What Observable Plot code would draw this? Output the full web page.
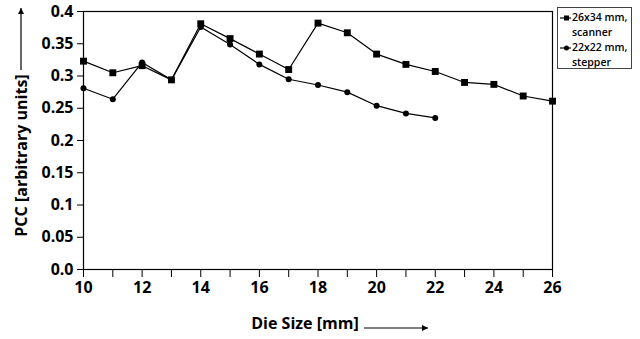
<!DOCTYPE html>
<html>
<head>
<meta charset="utf-8">
<script src="https://cdn.jsdelivr.net/npm/d3@7"></script>
<script src="https://cdn.jsdelivr.net/npm/@observablehq/plot@0.6"></script>
<style>
  html, body { margin: 0; padding: 0; background: #fff; }
  #wrap { position: relative; width: 640px; height: 339px; font-family: "Open Sans", sans-serif; }
  #legend { position: absolute; left: 557px; top: 7px; width: 75px; height: 62px; border: 1px solid #444; box-sizing: border-box; background: #fff; font-size: 10.5px; font-weight: 600; line-height: 15px; color: #000; padding-top: 2px; white-space: nowrap; overflow: hidden; }
  #legend .row { display: flex; align-items: flex-start; }
  #legend svg { flex: none; margin-left: 1px; margin-top: 0px; }
  #legend .txt { margin-left: 1px; }
</style>
</head>
<body>
<div id="wrap"></div>
<script>
const dieSize = [10, 11, 12, 13, 14, 15, 16, 17, 18, 19, 20, 21, 22, 23, 24, 25, 26];
const scanner = [0.323, 0.305, 0.316, 0.294, 0.381, 0.358, 0.334, 0.310, 0.382, 0.367, 0.334, 0.318, 0.307, 0.290, 0.287, 0.269, 0.261];
const stepperSize = [10, 11, 12, 13, 14, 15, 16, 17, 18, 19, 20, 21, 22];
const stepper = [0.281, 0.264, 0.321, 0.294, 0.376, 0.349, 0.318, 0.295, 0.286, 0.275, 0.254, 0.242, 0.235];
const yTicks = [0, 0.05, 0.1, 0.15, 0.2, 0.25, 0.3, 0.35, 0.4];
const xTicks = [10, 11, 12, 13, 14, 15, 16, 17, 18, 19, 20, 21, 22, 23, 24, 25, 26];
const seriesNames = ["26x34 mm, scanner", "22x22 mm, stepper"];
const xLabel = "Die Size [mm]";
const yLabel = "PCC [arbitrary units]";

const scanData = dieSize.map((d, i) => ({x: d, y: scanner[i]}));
const stepData = stepperSize.map((d, i) => ({x: d, y: stepper[i]}));

const W = 640, H = 339, mL = 83, mR = 88, mT = 11, mB = 70;

const chart = Plot.plot({
  width: W, height: H,
  marginLeft: mL, marginRight: mR, marginTop: mT, marginBottom: mB,
  style: {fontFamily: "Open Sans, sans-serif", fontWeight: "bold", fontSize: "16px", color: "#000", background: "#fff", overflow: "visible"},
  x: {domain: [10, 26]},
  y: {domain: [0, 0.4]},
  marks: [
    Plot.frame({stroke: "#000", strokeWidth: 1.2}),
    Plot.axisY({ticks: yTicks, tickSize: 6, tickPadding: 4, label: null, fontSize: 16, fontWeight: "bold",
      tickFormat: d => d === 0 ? "0.0" : String(+d.toFixed(2))}),
    Plot.axisX({ticks: xTicks, tickSize: 8, tickPadding: 4, label: null, fontSize: 16, fontWeight: "bold",
      tickFormat: d => d % 2 === 0 ? String(d) : ""}),
    Plot.line(scanData, {x: "x", y: "y", stroke: "#000", strokeWidth: 1.2}),
    Plot.dot(scanData, {x: "x", y: "y", symbol: "square", r: 3.9, fill: "#000"}),
    Plot.line(stepData, {x: "x", y: "y", stroke: "#000", strokeWidth: 1.2}),
    Plot.dot(stepData, {x: "x", y: "y", symbol: "circle", r: 3, fill: "#000"}),
    Plot.text([yLabel], {frameAnchor: "left", dx: -62, dy: 15, rotate: -90, fontSize: 16, fontWeight: "bold", textAnchor: "middle", text: d => d}),
    Plot.text([xLabel], {frameAnchor: "bottom", dx: -13, dy: 59, fontSize: 16, fontWeight: "bold", textAnchor: "middle", text: d => d})
  ]
});

// decorative arrows next to the axis labels
const svg = d3.select(chart);
const defs = svg.append("defs");
defs.append("marker").attr("id", "ah").attr("viewBox", "0 0 10 10").attr("refX", 10).attr("refY", 5)
  .attr("markerWidth", 10).attr("markerHeight", 6).attr("markerUnits", "userSpaceOnUse").attr("orient", "auto")
  .append("path").attr("d", "M0,0L10,5L0,10Z").attr("fill", "#000");
svg.append("line").attr("x1", 21).attr("y1", 70).attr("x2", 21).attr("y2", 8)
  .attr("stroke", "#000").attr("stroke-width", 1.2).attr("marker-end", "url(#ah)");
svg.append("line").attr("x1", 364).attr("y1", 328).attr("x2", 428).attr("y2", 328)
  .attr("stroke", "#000").attr("stroke-width", 1.2).attr("marker-end", "url(#ah)");

const wrap = document.getElementById("wrap");
wrap.appendChild(chart);

// legend
const legend = document.createElement("div");
legend.id = "legend";
const symbols = ["square", "circle"];
seriesNames.forEach((name, i) => {
  const parts = name.split(", ");
  const row = document.createElement("div");
  row.className = "row";
  const s = d3.create("svg").attr("width", 12).attr("height", 15);
  s.append("line").attr("x1", 1).attr("x2", 12).attr("y1", 8).attr("y2", 8).attr("stroke", "#000").attr("stroke-width", 1.2);
  if (symbols[i] === "square") s.append("rect").attr("x", 5).attr("y", 5.5).attr("width", 5).attr("height", 5).attr("fill", "#000");
  else s.append("circle").attr("cx", 7.5).attr("cy", 8).attr("r", 2.5).attr("fill", "#000");
  row.appendChild(s.node());
  const t = document.createElement("div");
  t.className = "txt";
  t.innerHTML = parts[0] + ",<br>" + parts[1];
  row.appendChild(t);
  legend.appendChild(row);
});
wrap.appendChild(legend);
</script>
</body>
</html>
